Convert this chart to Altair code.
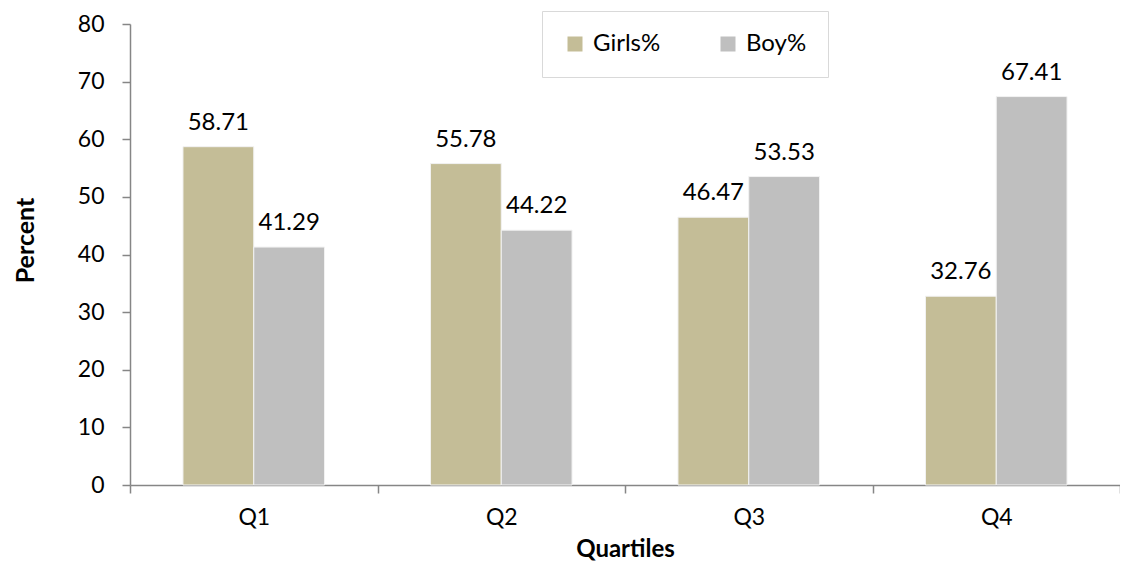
import altair as alt
import pandas as pd

quartiles = ["Q1", "Q2", "Q3", "Q4"]
series = ["Girls%", "Boy%"]
girls = [58.71, 55.78, 46.47, 32.76]
boys = [41.29, 44.22, 53.53, 67.41]
colors = ["#C4BD97", "#BFBFBF"]
y_ticks = [0, 10, 20, 30, 40, 50, 60, 70, 80]

rows = []
for q, g, b in zip(quartiles, girls, boys):
    rows.append({"Quartile": q, "Series": series[0], "Value": g})
    rows.append({"Quartile": q, "Series": series[1], "Value": b})
df = pd.DataFrame(rows)

FONT = "Lato"
AXIS_GRAY = "#868686"

base = alt.Chart(df).encode(
    x=alt.X(
        "Quartile:N",
        sort=quartiles,
        scale=alt.Scale(paddingInner=0, paddingOuter=0),
        axis=alt.Axis(
            title="Quartiles",
            labelAngle=0,
            tickBand="extent",
            tickSize=8,
            tickColor=AXIS_GRAY,
            domainColor=AXIS_GRAY,
            domainWidth=1.5,
            tickWidth=1.5,
            labelFont=FONT,
            labelFontSize=23,
            labelColor="#000000",
            labelPadding=13,
            titleFont=FONT,
            titleFontSize=24,
            titleFontWeight="bold",
            titleColor="#000000",
            titlePadding=8,
        ),
    ),
    xOffset=alt.XOffset(
        "Series:N", sort=series, scale=alt.Scale(paddingInner=0, paddingOuter=0.748)
    ),
    y=alt.Y(
        "Value:Q",
        scale=alt.Scale(domain=[0, 80], nice=False),
        axis=alt.Axis(
            title="Percent",
            values=y_ticks,
            grid=False,
            tickSize=8,
            tickColor=AXIS_GRAY,
            domainColor=AXIS_GRAY,
            domainWidth=1.5,
            tickWidth=1.5,
            labelFont=FONT,
            labelFontSize=23,
            labelColor="#000000",
            labelPadding=18,
            titleFont=FONT,
            titleFontSize=25,
            titleFontWeight="bold",
            titleColor="#000000",
            titlePadding=39,
            titleY=216,
        ),
    ),
)

bars = base.mark_bar(stroke="#F2F2F2", strokeWidth=1).encode(
    color=alt.Color(
        "Series:N",
        sort=series,
        scale=alt.Scale(domain=series, range=colors),
        legend=alt.Legend(
            title=None,
            orient="none",
            direction="horizontal",
            legendX=412,
            legendY=-13,
            padding=21,
            strokeColor="#D9D9D9",
            fillColor="#FFFFFF",
            symbolType="square",
            symbolSize=225,
            symbolStrokeWidth=0,
            labelFont=FONT,
            labelFontSize=24,
            labelColor="#000000",
            labelOffset=6,
            columnPadding=55,
        ),
    )
)

labels = base.mark_text(
    baseline="alphabetic", dy=-17, font=FONT, fontSize=24, color="#000000"
).encode(text=alt.Text("Value:Q", format=".2f"))

chart = (
    alt.layer(bars, labels)
    .properties(
        width=990,
        height=461,
        padding={"left": 122, "top": 16, "right": 0, "bottom": 76},
        autosize=alt.AutoSizeParams(type="none"),
        background="#FFFFFF",
    )
    .configure_view(stroke=None)
)

chart.save("out.html", embed_options={"renderer": "svg", "actions": False})
